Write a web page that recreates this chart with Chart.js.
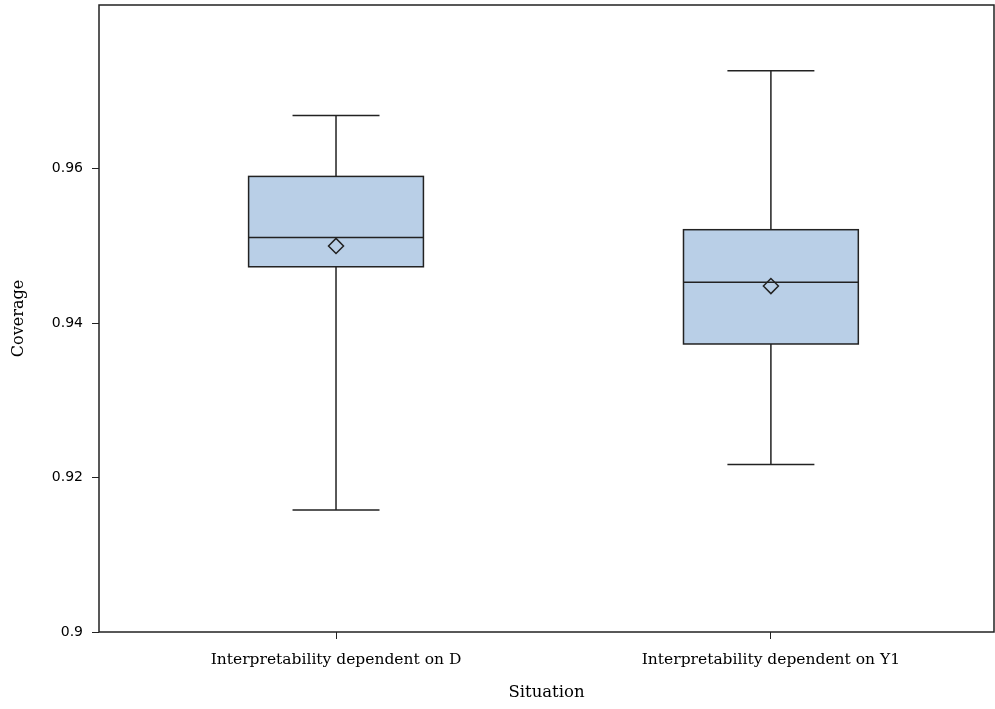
<!DOCTYPE html>
<html>
<head>
<meta charset="utf-8">
<script src="https://cdn.jsdelivr.net/npm/chart.js@4/dist/chart.umd.min.js"></script>
<style>
  html, body { margin: 0; padding: 0; background: #fff; }
  #wrap { width: 995px; height: 709px; }
</style>
</head>
<body>
<div id="wrap"><canvas id="chart"></canvas></div>
<script>
"use strict";

// data
const categories = ["Interpretability dependent on D", "Interpretability dependent on Y1"];
const whiskerLow = [0.9158, 0.9217];
const q1 = [0.9473, 0.9373];
const median = [0.9511, 0.9453];
const q3 = [0.9590, 0.9521];
const whiskerHigh = [0.9669, 0.9727];
const means = [0.9500, 0.9448];
const yTicks = [0.9, 0.92, 0.94, 0.96];

const BOX_FILL = "#b9cfe7";
const LINE = "#222";
const BOX_W = 0.402;   // in x units
const CAP_W = 0.2;

const SERIF = "'DejaVu Serif', serif";
const SANS = "'DejaVu Sans', sans-serif";

const boxPlugin = {
    id: "boxes",
    beforeDatasetsDraw(chart) {
        const ctx = chart.ctx;
        const x = chart.scales.x, y = chart.scales.y;
        ctx.save();
        ctx.lineWidth = 1.5;
        ctx.strokeStyle = LINE;
        categories.forEach((c, i) => {
            const pos = i + 1;
            const xc = x.getPixelForValue(pos);
            const xl = x.getPixelForValue(pos - BOX_W / 2);
            const xr = x.getPixelForValue(pos + BOX_W / 2);
            const cl = x.getPixelForValue(pos - CAP_W / 2);
            const cr = x.getPixelForValue(pos + CAP_W / 2);
            const yq1 = y.getPixelForValue(q1[i]);
            const yq3 = y.getPixelForValue(q3[i]);
            const ylo = y.getPixelForValue(whiskerLow[i]);
            const yhi = y.getPixelForValue(whiskerHigh[i]);
            const ymed = y.getPixelForValue(median[i]);

            // whiskers
            ctx.beginPath();
            ctx.moveTo(xc, yq3); ctx.lineTo(xc, yhi);
            ctx.moveTo(cl, yhi); ctx.lineTo(cr, yhi);
            ctx.moveTo(xc, yq1); ctx.lineTo(xc, ylo);
            ctx.moveTo(cl, ylo); ctx.lineTo(cr, ylo);
            ctx.stroke();

            // box
            ctx.fillStyle = BOX_FILL;
            ctx.fillRect(xl, yq3, xr - xl, yq1 - yq3);
            ctx.strokeRect(xl, yq3, xr - xl, yq1 - yq3);

            // median
            ctx.beginPath();
            ctx.moveTo(xl, ymed); ctx.lineTo(xr, ymed);
            ctx.stroke();
        });
        ctx.restore();
    },
    afterDraw(chart) {
        const a = chart.chartArea;
        const ctx = chart.ctx;
        ctx.save();
        ctx.strokeStyle = LINE;
        ctx.lineWidth = 1.5;
        ctx.strokeRect(a.left, a.top, a.right - a.left, a.bottom - a.top);
        ctx.restore();
    }
};

new Chart(document.getElementById("chart"), {
    type: "scatter",
    data: {
        datasets: [{
            label: "Mean",
            data: means.map((m, i) => ({x: i + 1, y: m})),
            pointStyle: "rectRot",
            pointRadius: 7.5,
            pointHoverRadius: 7.5,
            backgroundColor: "rgba(0,0,0,0)",
            borderColor: LINE,
            borderWidth: 1.5
        }]
    },
    options: {
        responsive: true,
        maintainAspectRatio: false,
        animation: false,
        events: [],
        layout: {autoPadding: false, padding: {top: 5, right: 1, left: 0, bottom: 0}},
        plugins: {legend: {display: false}, tooltip: {enabled: false}},
        scales: {
            x: {
                type: "linear",
                min: 0.455,
                max: 2.513,
                afterBuildTicks: (s) => { s.ticks = categories.map((c, i) => ({value: i + 1})); },
                afterFit: (s) => { s.height = 77; s.paddingLeft = 0; s.paddingRight = 0; },
                grid: {drawOnChartArea: false, tickLength: 7, color: LINE, lineWidth: 1},
                border: {display: false},
                ticks: {
                    color: "#000",
                    font: {family: SERIF, size: 15.5},
                    padding: 12,
                    maxRotation: 0,
                    callback: (v) => categories[v - 1]
                },
                title: {display: true, text: "Situation", color: "#000",
                        font: {family: SERIF, size: 16.5}, padding: {top: 0, bottom: 6}}
            },
            y: {
                min: 0.9,
                max: 0.9812,
                afterBuildTicks: (s) => { s.ticks = yTicks.map(v => ({value: v})); },
                afterFit: (s) => { s.width = 99; s.paddingTop = 0; s.paddingBottom = 0; },
                grid: {drawOnChartArea: false, tickLength: 7, color: LINE, lineWidth: 1},
                border: {display: false},
                ticks: {
                    color: "#000",
                    font: {family: SANS, size: 14},
                    padding: 9,
                    callback: (v) => String(v)
                },
                title: {display: true, text: "Coverage", color: "#000",
                        font: {family: SERIF, size: 16}, padding: {top: 9, bottom: 4}}
            }
        }
    },
    plugins: [boxPlugin]
});
</script>
</body>
</html>
